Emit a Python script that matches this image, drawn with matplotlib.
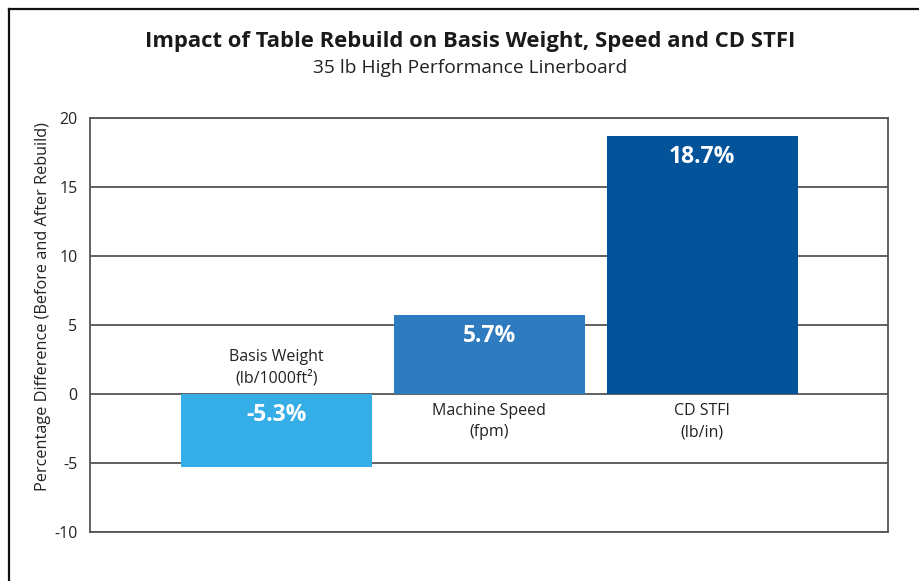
import numpy as np
from matplotlib import pyplot as plt
from matplotlib.lines import Line2D

categories = ['Basis Weight\n(lb/1000ft²)', 'Machine Speed\n(fpm)', 'CD STFI\n(lb/in)']
values = [-5.3, 5.7, 18.7]
value_labels = ['-5.3%', '5.7%', '18.7%']
colors = ['#35aee8', '#2f7bbf', '#03539b']
yticks = [-10, -5, 0, 5, 10, 15, 20]

plt.rcParams['font.family'] = ['Open Sans', 'DejaVu Sans']

W, H = 919, 581
fig = plt.figure(figsize=(W / 100, H / 100), dpi=100)
ax = fig.add_axes([90 / W, 1 - 532 / H, (888 - 90) / W, (532 - 118) / H])

x = np.arange(len(values))
ax.bar(x, values, width=0.897, color=colors, zorder=3)

ax.set_xlim(-0.876, 2.873)
ax.set_ylim(-10, 20)
ax.set_yticks(yticks)
ax.set_yticklabels([str(t) for t in yticks], fontsize=11.5, color='#222222')
ax.set_xticks([])
ax.tick_params(axis='y', length=0, pad=9)
ax.yaxis.grid(True, color='#555555', linewidth=1.3, zorder=1)
for s in ax.spines.values():
    s.set_color('#555555')
    s.set_linewidth(1.3)

for xi, v, lab, cat in zip(x, values, value_labels, categories):
    top = max(v, 0)
    ax.text(xi, top - 1.5, lab, ha='center', va='center', color='white',
            fontsize=16.5, fontweight='bold', zorder=4)
    # category name sits on the opposite side of the zero line
    cy = 1.9 if v < 0 else -2.0
    ax.text(xi, cy, cat, ha='center', va='center', fontsize=11.5,
            color='#222222', linespacing=1.45, zorder=4)

fig.text(43 / W, 1 - 307 / H, 'Percentage Difference (Before and After Rebuild)',
         rotation=90, ha='center', va='center', fontsize=11.7, color='#222222')

fig.text(470 / W, 1 - 42 / H, 'Impact of Table Rebuild on Basis Weight, Speed and CD STFI',
         ha='center', va='center', fontsize=15.8, fontweight='bold', color='#1a1a1a')
fig.text(470 / W, 1 - 68 / H, '35 lb High Performance Linerboard',
         ha='center', va='center', fontsize=13.8, color='#222222')

# outer frame (cropped at right and bottom)
fig.add_artist(Line2D([9 / W, 9 / W], [0, 1 - 9 / H], transform=fig.transFigure,
                      color='#111111', linewidth=1.6))
fig.add_artist(Line2D([9 / W, 1], [1 - 9 / H, 1 - 9 / H], transform=fig.transFigure,
                      color='#111111', linewidth=1.6))

fig.savefig('out.png', dpi=100)
